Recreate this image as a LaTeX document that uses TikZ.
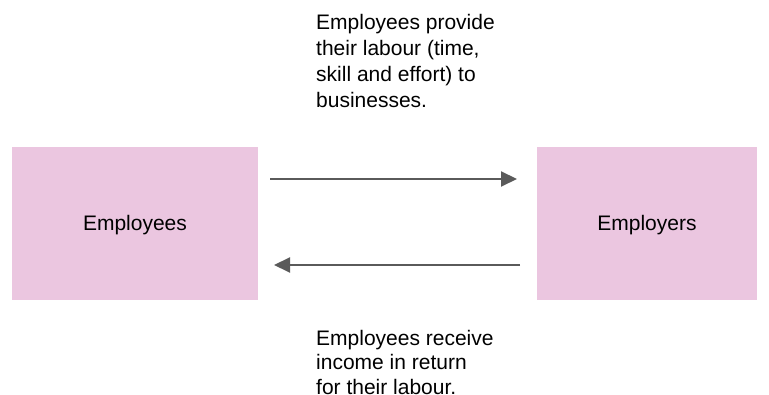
\documentclass[tikz,border=0pt]{standalone}
\usepackage{fontspec}
\setmainfont{Liberation Sans}
\usetikzlibrary{arrows.meta}
\definecolor{boxpink}{HTML}{EBC6E0}
\definecolor{arrowgrey}{HTML}{5A5A5A}
\begin{document}
\begin{tikzpicture}[x=1pt,y=-1pt,
  party/.style={fill=boxpink,draw=none,inner sep=0pt,text height=20pt,text depth=5pt,
    font=\fontsize{21}{26}\selectfont},
  flow/.style={draw=arrowgrey,line width=2pt,-{Triangle[length=16pt,width=15pt]}},
  note/.style={align=left,anchor=north west,inner sep=0pt}]
  \useasboundingbox (0,0) rectangle (769,395);
  % the two parties
  \node[party,minimum width=246pt,minimum height=153pt] (ee) at (135,223.5) {Employees};
  \node[party,minimum width=220pt,minimum height=153pt] (er) at (647,223.5) {Employers};
  % end points of the flows
  \coordinate (a1) at (270,179);
  \coordinate (a2) at (517,179);
  \coordinate (b1) at (520,265);
  \coordinate (b2) at (274,265);
  \draw[flow] (a1) -- (a2);
  \draw[flow] (b1) -- (b2);
  % descriptions
  \node[note,font=\fontsize{21}{26}\selectfont] (top) at (316,14.3) {Employees provide\\their labour (time,\\skill and effort) to\\businesses.};
  \node[note,font=\fontsize{21}{24.5}\selectfont] (bot) at (316,330) {Employees receive\\income in return\\for their labour.};
\end{tikzpicture}
\end{document}
